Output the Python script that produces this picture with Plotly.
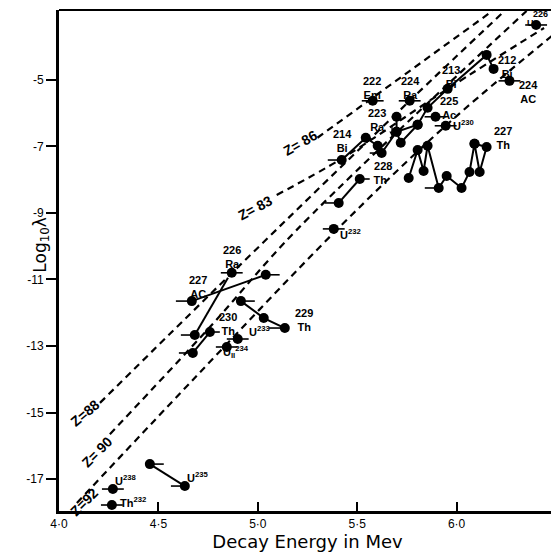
import plotly.graph_objects as go

# ---------------- data (decay energy in MeV, log10 lambda) ----------------
# Geiger-Nuttall guide lines (dashed)
z86_e = [5.30, 6.18]
z86_l = [-6.74, -2.93]
z83_e = [5.095, 5.427, 5.955, 6.44]
z83_l = [-8.46, -7.35, -5.27, -3.44]
z88_e = [4.206, 4.869, 5.764, 6.241]
z88_l = [-14.71, -10.81, -5.63, -2.93]
z90_e = [4.256, 4.759, 5.196, 6.352]
z90_l = [-15.65, -12.43, -9.51, -2.93]
z92_e = [4.090, 4.673, 5.397, 5.945, 6.497]
z92_l = [-17.72, -14.02, -9.51, -6.38, -3.59]

# isolated measured points (with short horizontal bars)
iso_e = [5.578, 5.764, 6.266, 5.945, 5.382, 4.899, 4.844, 4.271, 4.266, 5.894, 4.869, 6.40]
iso_l = [-5.63, -5.63, -5.03, -6.38, -9.48, -12.79, -13.03, -17.30, -17.78, -6.11, -10.80, -3.35]

# connected sequences
bi214_e = [5.422, 5.543, 5.603]
bi214_l = [-7.41, -6.74, -6.98]
main_e = [5.623, 5.698, 5.804, 5.854, 5.955, 6.151, 6.186]
main_l = [-7.20, -6.56, -6.35, -5.84, -5.27, -4.25, -4.67]
ra223_e = [5.698, 5.698, 5.719, 5.804]
ra223_l = [-6.11, -6.56, -6.89, -6.35]
th228_e = [5.407, 5.513]
th228_l = [-8.70, -7.98]
th227_e = [5.759, 5.804, 5.834, 5.854, 5.910, 5.950, 6.025, 6.065, 6.090, 6.116, 6.151, 6.090]
th227_l = [-7.95, -7.11, -7.74, -6.98, -8.25, -7.89, -8.25, -7.77, -6.92, -7.77, -7.02, -6.92]
ac227_e = [4.668, 5.040]
ac227_l = [-11.65, -10.86]
ra226_e = [4.683, 4.85]
ra226_l = [-12.67, -10.95]
th230_e = [4.673, 4.759]
th230_l = [-13.21, -12.58]
th229_e = [4.915, 5.030, 5.136]
th229_l = [-11.65, -12.16, -12.46]
u235_e = [4.457, 4.633]
u235_l = [-16.55, -17.21]

# one-sided energy-uncertainty bars on connected points
bar_e = [4.668, 4.683, 4.673, 5.422, 5.407, 5.623, 5.910, 5.136, 4.633, 5.040, 4.915, 4.457, 4.759, 5.513]
bar_l = [-11.65, -12.67, -13.21, -7.41, -8.70, -7.20, -8.25, -12.46, -17.21, -10.86, -11.65, -16.55, -12.58, -7.98]
bar_minus = [0.08, 0.07, 0.07, 0.07, 0.07, 0.06, 0.07, 0.08, 0.07, 0, 0, 0, 0, 0]
bar_plus = [0, 0, 0, 0, 0, 0, 0, 0, 0, 0.07, 0.07, 0.07, 0.05, 0.05]

x_ticks = [4.0, 4.5, 5.0, 5.5, 6.0, 6.5]
x_ticktext = ["4·0", "4·5", "5·0", "5·5", "6·0", "6·5"]
y_ticks = [-5, -7, -9, -11, -13, -15, -17]
y_ticktext = ["-5", "-7", "-9", "-11", "-13", "-15", "-17"]

# ---------------- figure ----------------
fig = go.Figure()
FONT = "DejaVu Sans"
BFONT = "Liberation Sans"

for e, l in [(z86_e, z86_l), (z83_e, z83_l), (z88_e, z88_l), (z90_e, z90_l), (z92_e, z92_l)]:
    fig.add_trace(go.Scatter(x=e, y=l, mode="lines", line=dict(color="black", width=2.2, dash="7px,5px"),
                             line_shape="spline", hoverinfo="skip"))

fig.add_trace(go.Scatter(x=bar_e, y=bar_l, mode="markers", marker=dict(color="black", size=1),
                         error_x=dict(type="data", symmetric=False, array=bar_plus, arrayminus=bar_minus,
                                      color="black", thickness=1.6, width=0)))

fig.add_trace(go.Scatter(x=iso_e, y=iso_l, mode="markers",
                         marker=dict(color="black", size=10),
                         error_x=dict(type="constant", value=0.055, color="black", thickness=1.6, width=0)))

def chain(e, l):
    fig.add_trace(go.Scatter(x=e, y=l, mode="lines+markers",
                             line=dict(color="black", width=2),
                             marker=dict(color="black", size=10)))

for e, l in [(bi214_e, bi214_l), (main_e, main_l), (ra223_e, ra223_l), (th228_e, th228_l),
             (th227_e, th227_l), (ac227_e, ac227_l), (th230_e, th230_l), (th229_e, th229_l),
             (u235_e, u235_l)]:
    chain(e, l)

fig.add_trace(go.Scatter(x=ra226_e[:1], y=ra226_l[:1], mode="markers", marker=dict(color="black", size=10)))
fig.add_trace(go.Scatter(x=ra226_e, y=ra226_l, mode="lines", line=dict(color="black", width=2)))

labels = [
    ("222<br>Em", 5.574, -5.25), ("224<br>Ra", 5.766, -5.25), ("213<br>Bi", 5.972, -4.91),
    ("212<br>Bi", 6.254, -4.61), ("224<br>AC", 6.364, -5.36),
    ("223<br>Ra", 5.600, -6.20), ("225<br>Ac", 5.962, -5.84), ("U<sup>230</sup>", 6.037, -6.35),
    ("214<br>Bi", 5.424, -6.83), ("  228<br>Th", 5.614, -7.80), ("U<sup>232</sup>", 5.464, -9.63),
    ("227<br>Th", 6.233, -6.74), ("226<br>Ra", 4.870, -10.33), ("227<br>AC", 4.699, -11.24),
    ("230<br>Th", 4.85, -12.34), ("229<br>Th", 5.232, -12.22), ("U<sup>233</sup>", 5.011, -12.55),
    ("U<sub>II</sub><sup>234</sup>", 4.89, -13.18), ("U<sup>238</sup>", 4.337, -17.03),
    ("Th<sup>232</sup>", 4.372, -17.69), ("U<sup>235</sup>", 4.699, -16.94),
    ("226", 6.42, -3.03), ("U", 6.374, -3.29),
]
for t, x, y in labels:
    small = t in ("226", "U")
    fig.add_annotation(x=x, y=y, text="<b>" + t + "</b>", showarrow=False,
                       font=dict(family=BFONT, size=9 if small else 11, color="black"))

# small arrow under the 223 Ra label
fig.add_annotation(x=5.675, y=-6.71, ax=0, ay=-13, text="", showarrow=True,
                   arrowhead=2, arrowsize=0.8, arrowwidth=1.3, arrowcolor="black")

zlabels = [("Z= 86", 5.212, -6.89, -30), ("Z= 83", 4.986, -8.85, -28), ("Z=88", 4.131, -15.02, -40),
           ("Z= 90", 4.191, -16.19, -45), ("Z=92", 4.126, -17.69, -45)]
for t, x, y, a in zlabels:
    fig.add_annotation(x=x, y=y, text="<b>" + t + "</b>", showarrow=False, textangle=a,
                       font=dict(family=BFONT, size=14, color="black"))

# y-axis title placed like the original
fig.add_annotation(xref="paper", yref="paper", x=-0.062, y=0.531, text="Log<sub>10</sub>λ",
                   textangle=-90, showarrow=False, font=dict(family=FONT, size=17, color="black"))

# frame top / right
fig.add_shape(type="line", xref="paper", yref="paper", x0=0, x1=1, y0=1, y1=1, line=dict(color="black", width=2))
fig.add_shape(type="line", xref="paper", yref="paper", x0=1, x1=1, y0=0, y1=1, line=dict(color="black", width=2))

fig.update_layout(
    width=551, height=546, showlegend=False,
    margin=dict(l=51, r=3, t=2, b=43),
    paper_bgcolor="white", plot_bgcolor="white",
    font=dict(family=FONT, color="black"),
    xaxis=dict(range=[4.0, 6.5], tickvals=x_ticks, ticktext=x_ticktext, showgrid=False, zeroline=False,
               showline=True, linecolor="black", linewidth=3, ticks="inside", ticklen=9, tickwidth=2,
               tickcolor="black", tickfont=dict(family=BFONT, size=12, color="black"),
               title=dict(text="Decay Energy in Mev", font=dict(family=FONT, size=18, color="black"), standoff=2)),
    yaxis=dict(range=[-17.96, -2.9], tickvals=y_ticks, ticktext=y_ticktext, showgrid=False, zeroline=False,
               showline=True, linecolor="black", linewidth=3, ticks="outside", ticklen=10, tickwidth=2,
               tickcolor="black", tickfont=dict(family=BFONT, size=12, color="black")),
)

fig.write_html("out.html")
